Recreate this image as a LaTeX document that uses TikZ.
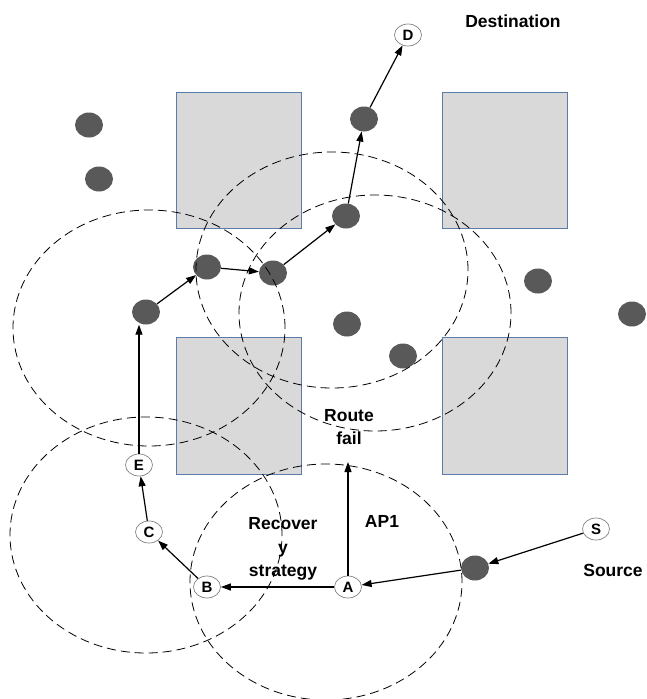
\documentclass[tikz,border=0pt]{standalone}
\usepackage{fontspec}
\setmainfont{Liberation Sans}
\usetikzlibrary{arrows.meta,shapes.geometric}
\definecolor{nodegray}{HTML}{595959}
\definecolor{blockgray}{HTML}{D9D9D9}
\definecolor{blockedge}{HTML}{5B7BA8}
\begin{document}
\begin{tikzpicture}[
  x=1pt, y=-1pt,
  block/.style={draw=blockedge, line width=1pt, fill=blockgray},
  dark_node/.style={ellipse, minimum width=28pt, minimum height=25pt, inner sep=0pt, fill=nodegray},
  name_node/.style={ellipse, draw=gray, line width=0.7pt, fill=white, minimum width=27pt, minimum height=22pt, inner sep=0pt, font=\fontsize{15}{15}\selectfont\bfseries},
  radio_range/.style={dash pattern=on 9pt off 5pt, line width=0.8pt},
  hop/.style={-{Triangle[length=10pt,width=7pt]}, line width=1.2pt},
  caption/.style={font=\fontsize{17.5}{23.5}\selectfont\bfseries, align=center},
]
\useasboundingbox (0,0) rectangle (646,699);
\draw[block] (176,92) rectangle (301,228);
\draw[block] (442,92) rectangle (567,228);
\draw[block] (176,337) rectangle (301,474);
\draw[block] (442,337) rectangle (567,474);
\draw (89,125) node (idle1) [dark_node] {};
\draw (99,179) node (idle2) [dark_node] {};
\draw (347,324) node (idle3) [dark_node] {};
\draw (403,356) node (idle4) [dark_node] {};
\draw (538,281) node (idle5) [dark_node] {};
\draw (632,314) node (idle6) [dark_node] {};
\draw (146,312) node (hop1) [dark_node] {};
\draw (207,267) node (hop2) [dark_node] {};
\draw (273,273) node (hop3) [dark_node] {};
\draw (346,216) node (hop4) [dark_node] {};
\draw (364,119) node (hop5) [dark_node] {};
\draw (475,568) node (hop_src) [dark_node] {};
\draw (408,35) node (D) [name_node] {D};
\draw (139,465) node (E) [name_node] {E};
\draw (149,532) node (C) [name_node] {C};
\draw (207,587) node (B) [name_node] {B};
\draw (348,587) node (A) [name_node] {A};
\draw (596,529) node (S) [name_node] {S};
\coordinate (fail) at (348,462);
\draw[radio_range] (149,328) ellipse [x radius=136pt, y radius=118pt];
\draw[radio_range] (332,270) ellipse [x radius=136pt, y radius=118pt];
\draw[radio_range] (375,313) ellipse [x radius=136pt, y radius=118pt];
\draw[radio_range] (146,535) ellipse [x radius=136pt, y radius=118pt];
\draw[radio_range] (326,582) ellipse [x radius=136pt, y radius=118pt];
\draw[hop] (S) -- (hop_src);
\draw[hop] (hop_src) -- (A);
\draw[hop] (A) -- (B);
\draw[hop] (A) -- (fail);
\draw[hop] (B) -- (C);
\draw[hop] (C) -- (E);
\draw[hop] (E) -- (E |- hop1.south);
\draw[hop] (hop1) -- (hop2);
\draw[hop] (hop2) -- (hop3);
\draw[hop] (hop3) -- (hop4);
\draw[hop] (hop4) -- (hop5);
\draw[hop] (hop5) -- (D);
\draw (513,21) node (dest) [caption] {Destination};
\draw (613,570) node (src) [caption] {Source};
\draw (349,427) node (route) [caption] {Route\\fail};
\draw (382,521) node (ap) [caption] {AP1};
\draw (283,549) node (recover) [caption] {Recover\\y\\strategy};
\end{tikzpicture}
\end{document}
